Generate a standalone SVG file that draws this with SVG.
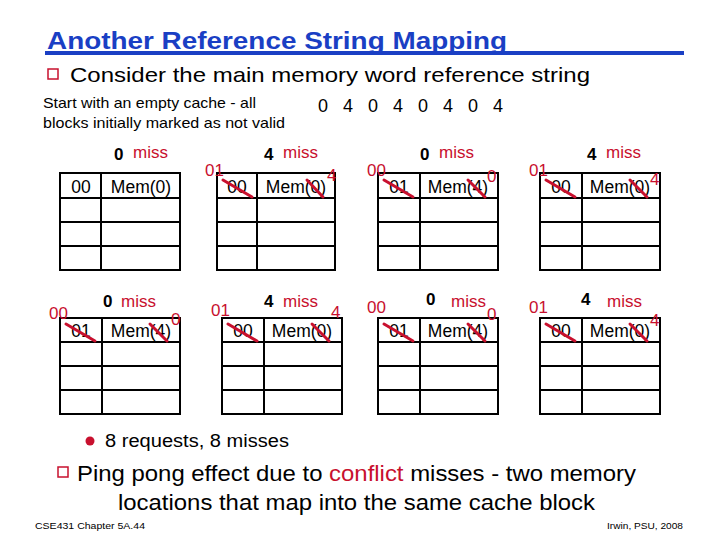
<svg xmlns="http://www.w3.org/2000/svg" width="720" height="540" viewBox="0 0 720 540">
<style>
text{font-family:"Liberation Sans",Arial,sans-serif}
.g{fill:none;stroke:#000;stroke-width:2}
.c{font-size:17.5px;fill:#000;text-anchor:middle}
.rs{font-size:17px;fill:#c8102e}
.n{font-size:17px;font-weight:bold;fill:#000}
.x{stroke:#c8102e;stroke-width:3;stroke-linecap:round}
</style>
<rect width="720" height="540" fill="#fff"/>
<text x="47" y="49" font-size="24" font-weight="bold" fill="#1a3fc4" textLength="460" lengthAdjust="spacingAndGlyphs">Another Reference String Mapping</text>
<rect x="45" y="51" width="639" height="4" fill="#1a3fc4"/>
<rect x="48" y="69" width="10" height="10" fill="#fff" stroke="#c8102e" stroke-width="1.5"/>
<text x="70" y="82" font-size="21" textLength="520" lengthAdjust="spacingAndGlyphs">Consider the main memory word reference string</text>
<text x="43" y="108" font-size="14.5" textLength="213" lengthAdjust="spacingAndGlyphs">Start with an empty cache - all</text>
<text x="43" y="128" font-size="14.5" textLength="242" lengthAdjust="spacingAndGlyphs">blocks initially marked as not valid</text>
<text y="112" font-size="18"><tspan x="318">0</tspan><tspan x="343">4</tspan><tspan x="368">0</tspan><tspan x="393">4</tspan><tspan x="418">0</tspan><tspan x="443">4</tspan><tspan x="468">0</tspan><tspan x="493">4</tspan></text>

<g id="t1">
<rect class="g" x="60" y="173" width="120" height="97"/>
<path class="g" d="M101 173V270M60 198H180M60 222H180M60 246H180"/>
<text class="n" x="114" y="160">0</text><text class="rs" x="133" y="158">miss</text>
<text class="c" x="81" y="193">00</text><text class="c" x="141" y="193">Mem(0)</text>
</g>
<g id="t2">
<rect class="g" x="217" y="173" width="118" height="97"/>
<path class="g" d="M257 173V270M217 198H335M217 222H335M217 246H335"/>
<text class="n" x="264" y="160">4</text><text class="rs" x="283" y="158">miss</text>
<text class="c" x="237" y="193">00</text><text class="c" x="296" y="193">Mem(0)</text>
<text class="rs" x="205" y="176">01</text><text class="rs" x="327" y="181">4</text>
<line class="x" x1="223" y1="180" x2="252" y2="197"/><line class="x" x1="307" y1="180" x2="323" y2="197"/>
</g>
<g id="t3">
<rect class="g" x="378" y="173" width="120" height="97"/>
<path class="g" d="M420 173V270M378 198H498M378 222H498M378 246H498"/>
<text class="n" x="420" y="160">0</text><text class="rs" x="439" y="158">miss</text>
<text class="c" x="399" y="193">01</text><text class="c" x="458" y="193">Mem(4)</text>
<text class="rs" x="367" y="176">00</text><text class="rs" x="487" y="182">0</text>
<line class="x" x1="384" y1="180" x2="413" y2="197"/><line class="x" x1="468" y1="180" x2="485" y2="197"/>
</g>
<g id="t4">
<rect class="g" x="540" y="173" width="120" height="97"/>
<path class="g" d="M582 173V270M540 198H660M540 222H660M540 246H660"/>
<text class="n" x="587" y="160">4</text><text class="rs" x="606" y="158">miss</text>
<text class="c" x="561" y="193">00</text><text class="c" x="620" y="193">Mem(0)</text>
<text class="rs" x="529" y="176">01</text><text class="rs" x="650" y="185">4</text>
<line class="x" x1="546" y1="180" x2="575" y2="197"/><line class="x" x1="630" y1="180" x2="647" y2="197"/>
</g>

<g id="b1">
<rect class="g" x="60" y="318" width="120" height="96"/>
<path class="g" d="M102 318V414M60 342H180M60 366H180M60 390H180"/>
<text class="n" x="103" y="307">0</text><text class="rs" x="121" y="307">miss</text>
<text class="c" x="81" y="337">01</text><text class="c" x="141" y="337">Mem(4)</text>
<text class="rs" x="49" y="319">00</text><text class="rs" x="171" y="325">0</text>
<line class="x" x1="66" y1="324" x2="95" y2="341"/><line class="x" x1="150" y1="324" x2="167" y2="341"/>
</g>
<g id="b2">
<rect class="g" x="222" y="318" width="120" height="96"/>
<path class="g" d="M264 318V414M222 342H342M222 366H342M222 390H342"/>
<text class="n" x="264" y="307">4</text><text class="rs" x="283" y="307">miss</text>
<text class="c" x="243" y="337">00</text><text class="c" x="302" y="337">Mem(0)</text>
<text class="rs" x="211" y="316">01</text><text class="rs" x="331" y="318">4</text>
<line class="x" x1="228" y1="324" x2="257" y2="341"/><line class="x" x1="312" y1="324" x2="329" y2="341"/>
</g>
<g id="b3">
<rect class="g" x="378" y="318" width="120" height="96"/>
<path class="g" d="M420 318V414M378 342H498M378 366H498M378 390H498"/>
<text class="n" x="426" y="305">0</text><text class="rs" x="451" y="307">miss</text>
<text class="c" x="399" y="337">01</text><text class="c" x="458" y="337">Mem(4)</text>
<text class="rs" x="367" y="313">00</text><text class="rs" x="487" y="320">0</text>
<line class="x" x1="384" y1="324" x2="413" y2="341"/><line class="x" x1="468" y1="324" x2="485" y2="341"/>
</g>
<g id="b4">
<rect class="g" x="540" y="318" width="120" height="96"/>
<path class="g" d="M582 318V414M540 342H660M540 366H660M540 390H660"/>
<text class="n" x="581" y="305">4</text><text class="rs" x="607" y="307">miss</text>
<text class="c" x="561" y="337">00</text><text class="c" x="620" y="337">Mem(0)</text>
<text class="rs" x="529" y="313">01</text><text class="rs" x="650" y="326">4</text>
<line class="x" x1="546" y1="324" x2="575" y2="341"/><line class="x" x1="630" y1="324" x2="647" y2="341"/>
</g>
<g id="connectors"></g>

<circle cx="90" cy="441" r="4.5" fill="#c8102e"/>
<text x="105" y="447" font-size="18" textLength="184" lengthAdjust="spacingAndGlyphs">8 requests, 8 misses</text>
<rect x="58" y="467" width="10" height="10" fill="#fff" stroke="#c8102e" stroke-width="1.5"/>
<text x="77" y="481" font-size="22" textLength="559" lengthAdjust="spacingAndGlyphs">Ping pong effect due to <tspan fill="#c8102e">conflict</tspan> misses - two memory</text>
<text x="118" y="510" font-size="22" textLength="477" lengthAdjust="spacingAndGlyphs">locations that map into the same cache block</text>
<text x="35" y="529" font-size="9" textLength="110" lengthAdjust="spacingAndGlyphs">CSE431  Chapter 5A.44</text>
<text x="607" y="529" font-size="9" textLength="76" lengthAdjust="spacingAndGlyphs">Irwin, PSU, 2008</text>
</svg>
